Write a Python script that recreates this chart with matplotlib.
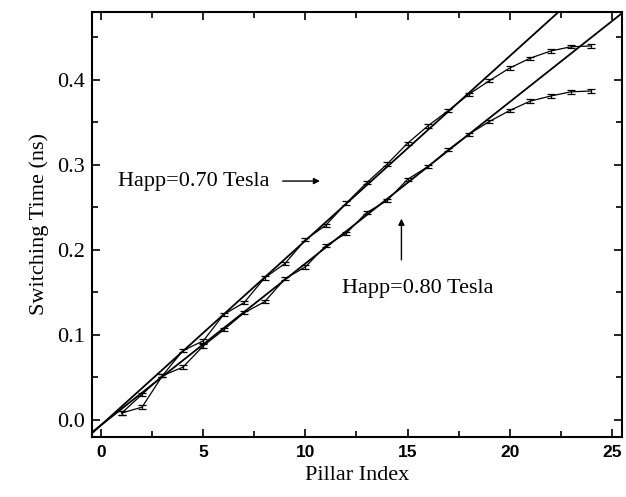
#!/usr/bin/env python3
"""Switching time vs pillar index for two applied fields."""

import matplotlib
matplotlib.use("Agg")
import matplotlib.pyplot as plt
import numpy as np
from matplotlib.ticker import MultipleLocator

# data
pillar = np.arange(1, 25)
t_070 = [0.008, 0.030, 0.052, 0.0815, 0.093, 0.124, 0.138, 0.167, 0.184, 0.212,
         0.229, 0.255, 0.279, 0.301, 0.3255, 0.346, 0.364, 0.383, 0.399, 0.414,
         0.4255, 0.434, 0.439, 0.440]
t_080 = [0.008, 0.015, 0.052, 0.062, 0.087, 0.106, 0.126, 0.139, 0.166, 0.180,
         0.205, 0.2196, 0.244, 0.258, 0.283, 0.298, 0.318, 0.336, 0.351, 0.364,
         0.375, 0.381, 0.386, 0.387]
err_070 = [0.002] * 24
err_080 = [0.002] * 24

# linear fits drawn across the plot (slope, intercept)
fit_070 = (0.0217, -0.006)
fit_080 = (0.0190, -0.006)

SERIF = "Liberation Serif"
SANS = "Liberation Sans"

fig = plt.figure(figsize=(6.26, 4.97), dpi=100)
ax = fig.add_axes([0.147, 0.121, 0.8466, 0.855])

xfit = np.array([-0.5, 25.5])
for slope, icpt in (fit_070, fit_080):
    ax.plot(xfit, slope * xfit + icpt, color="black", lw=1.3)

for t, e in ((t_070, err_070), (t_080, err_080)):
    ax.errorbar(pillar, t, yerr=e, color="black", lw=0.9, elinewidth=0.9,
                capsize=3, capthick=0.9)

ax.set_xlim(-0.45, 25.5)
ax.set_ylim(-0.02, 0.48)
ax.xaxis.set_major_locator(MultipleLocator(5))
ax.xaxis.set_minor_locator(MultipleLocator(2.5))
ax.yaxis.set_major_locator(MultipleLocator(0.1))
ax.yaxis.set_minor_locator(MultipleLocator(0.05))
ax.tick_params(which="both", direction="in", top=True, right=True, width=1.2)
ax.tick_params(which="major", length=6)
ax.tick_params(which="minor", length=4)
for s in ax.spines.values():
    s.set_linewidth(1.5)

for lbl in ax.get_xticklabels():
    lbl.set_fontfamily(SANS)
    lbl.set_fontsize(12.5)
    lbl.set_fontweight("bold")
ax.set_yticks([0.0, 0.1, 0.2, 0.3, 0.4])
ax.set_yticklabels(["0.0", "0.1", "0.2", "0.3", "0.4"], fontfamily=SERIF,
                   fontsize=16)
ax.tick_params(axis="x", pad=6)
ax.tick_params(axis="y", pad=5)

ax.set_xlabel("Pillar Index", fontfamily=SERIF, fontsize=16, labelpad=4)
ax.set_ylabel("Switching Time (ns)", fontfamily=SERIF, fontsize=16, labelpad=6)

ax.text(0.83, 0.281, "Happ=0.70 Tesla", fontfamily=SERIF, fontsize=16,
        va="center", ha="left")
ax.annotate("", xy=(10.85, 0.281), xytext=(8.75, 0.281),
            arrowprops=dict(arrowstyle="-|>", color="black", lw=1,
                            mutation_scale=9))
ax.text(11.8, 0.155, "Happ=0.80 Tesla", fontfamily=SERIF, fontsize=16,
        va="center", ha="left")
ax.annotate("", xy=(14.7, 0.24), xytext=(14.7, 0.185),
            arrowprops=dict(arrowstyle="-|>", color="black", lw=1,
                            mutation_scale=9))

fig.savefig("out.png", dpi=100)
